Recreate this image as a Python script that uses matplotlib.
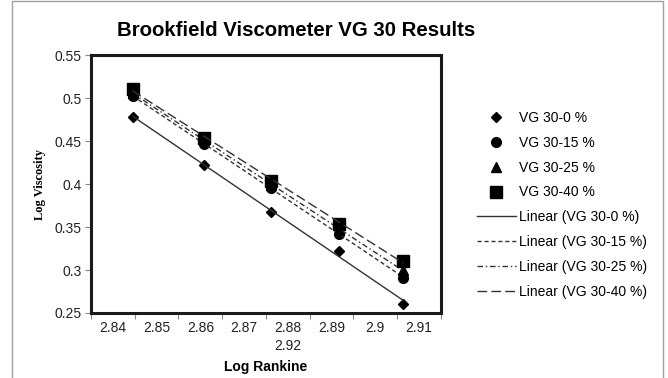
import matplotlib
matplotlib.use("Agg")
import matplotlib.pyplot as plt
import numpy as np
from matplotlib.patches import Rectangle

plt.rcParams['font.family'] = ['Liberation Sans', 'DejaVu Sans']

# data
log_rankine = [2.8445, 2.8609, 2.8761, 2.8918, 2.9064]
vg0 = [0.478, 0.422, 0.368, 0.322, 0.260]
vg15 = [0.502, 0.447, 0.395, 0.342, 0.291]
vg25 = [0.506, 0.451, 0.399, 0.347, 0.300]
vg40 = [0.511, 0.454, 0.403, 0.354, 0.311]

labels = ['VG 30-0 %', 'VG 30-15 %', 'VG 30-25 %', 'VG 30-40 %']
markers = ['D', 'o', '^', 's']
msizes = [5, 7, 7, 8]
styles = ['-', (0, (3, 2)), (0, (4, 2, 1, 2)), (0, (7, 3))]

xtick_labels = ['2.84', '2.85', '2.86', '2.87', '2.88', '2.89', '2.9', '2.91']

fig = plt.figure(figsize=(6.68, 3.78), dpi=100)
fig.patches.append(Rectangle((12/668, -0.1), 651/668, 1.1 - 1/378, transform=fig.transFigure,
                             fill=False, edgecolor='#a0a0a0', linewidth=1))
ax = fig.add_axes([91/668, 1-313/378, 350/668, 258/378])

x = np.array(log_rankine)
series = [vg0, vg15, vg25, vg40]
handles_pts = []
handles_lin = []
for ys, lab, mk, ms, ls in zip(series, labels, markers, msizes, styles):
    h, = ax.plot(x, ys, linestyle='none', marker=mk, markersize=ms, color='black', label=lab)
    handles_pts.append(h)
    k, b = np.polyfit(x, ys, 1)
    xx = np.array([x.min(), x.max()])
    l, = ax.plot(xx, k*xx + b, linestyle=ls, color='#333333', linewidth=1,
                 label='Linear (' + lab + ')')
    handles_lin.append(l)

ax.set_xlim(2.835, 2.915)
ax.set_ylim(0.25, 0.55)
ax.set_yticks(np.arange(0.25, 0.551, 0.05))
ax.set_yticklabels(['0.25', '0.3', '0.35', '0.4', '0.45', '0.5', '0.55'])
ax.set_xticks(np.arange(2.835, 2.9151, 0.01))
ax.set_xticklabels([])
ax.set_xticks(np.arange(2.84, 2.911, 0.01), minor=True)
ax.set_xticklabels(xtick_labels, minor=True)
ax.tick_params(axis='x', which='minor', length=0, pad=6, labelsize=10, labelcolor='#222222')
ax.tick_params(axis='x', which='major', length=4, color='#888888')
ax.tick_params(axis='y', length=4, color='#888888', labelsize=10, labelcolor='#222222', pad=3)
for s in ax.spines.values():
    s.set_linewidth(2.2)
    s.set_color('#1a1a1a')

# overflow label that wraps under 2.88 in the original
ax.text(0.5625, -0.1, '2.92', transform=ax.transAxes, ha='center', va='top',
        fontsize=10, color='#222222')
ax.set_xlabel('Log Rankine', fontsize=10, fontweight='bold', labelpad=18)
ax.set_ylabel('Log Viscosity', fontsize=9, fontweight='bold',
              family=['Liberation Serif', 'DejaVu Serif'], labelpad=6)

fig.text(296/668, 1-30/378, 'Brookfield Viscometer VG 30 Results', ha='center', va='center',
         fontsize=14.7, fontweight='bold')

fig.legend(handles_pts + handles_lin, [h.get_label() for h in handles_pts + handles_lin],
           loc='upper left', bbox_to_anchor=(477/668, 1-111/378), frameon=False,
           fontsize=10, handlelength=2.8, handletextpad=0.2, labelspacing=0.78,
           numpoints=1, borderaxespad=0, borderpad=0)

fig.savefig('out.png', dpi=100)
